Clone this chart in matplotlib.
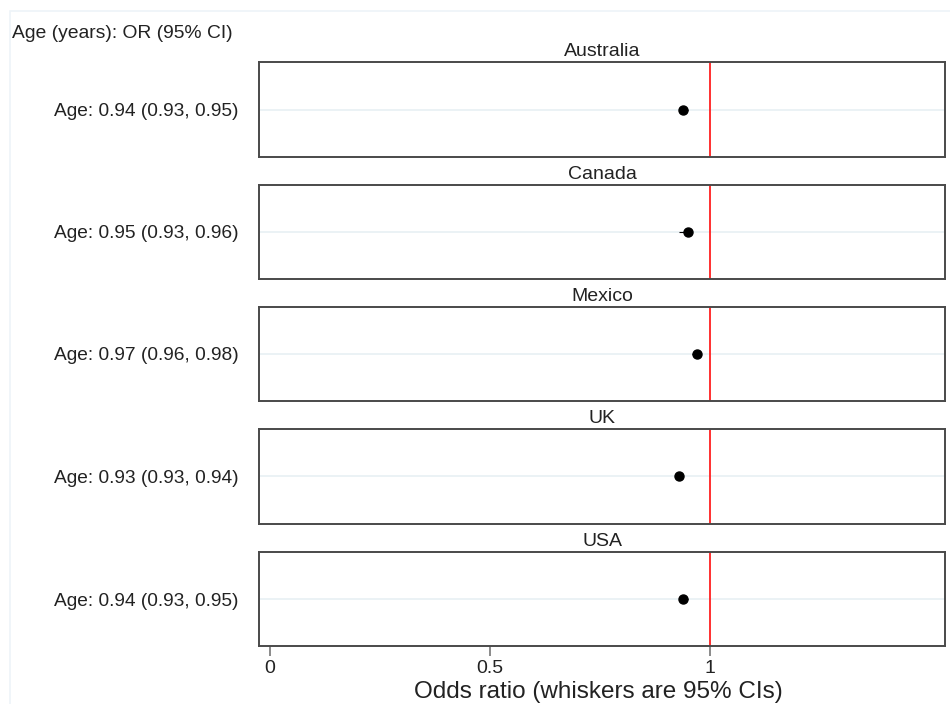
import matplotlib
matplotlib.use("Agg")
import matplotlib.pyplot as plt
from matplotlib.patches import Rectangle

countries = ["Australia", "Canada", "Mexico", "UK", "USA"]
odds_ratio = [0.94, 0.95, 0.97, 0.93, 0.94]
ci_low = [0.93, 0.93, 0.96, 0.93, 0.93]
ci_high = [0.95, 0.96, 0.98, 0.94, 0.95]
x_ticks = [0, 0.5, 1]
x_tick_labels = ["0", "0.5", "1"]

plt.rcParams["font.family"] = ["Liberation Sans", "DejaVu Sans"]

W, H = 950, 704
fig = plt.figure(figsize=(W / 100, H / 100), dpi=100)
fig.patch.set_facecolor("white")

# faint outer frame like the source export
fig.add_artist(Rectangle((10 / W, -0.01), 1.0, 1 - 11 / H + 0.01,
                         transform=fig.transFigure, fill=False,
                         edgecolor="#eef4f8", linewidth=1.2))

left, right = 259, 945
panel_px = [(62, 157), (185, 279), (307, 401), (429, 524), (552, 646)]

for i, (top, bot) in enumerate(panel_px):
    ax = fig.add_axes([left / W, 1 - bot / H, (right - left) / W, (bot - top) / H])
    ax.set_xlim(-0.025, 1.535)
    ax.set_ylim(-1, 1)
    ax.axhline(0, color="#e8f0f3", linewidth=1.2, zorder=1)
    ax.axvline(1, color="#ff2020", linewidth=1.3, zorder=2)
    ax.errorbar([odds_ratio[i]], [0],
                xerr=[[odds_ratio[i] - ci_low[i]], [ci_high[i] - odds_ratio[i]]],
                fmt="o", color="black", markersize=6.5, capsize=0,
                elinewidth=0.8, zorder=3)
    ax.set_yticks([0])
    ax.set_yticklabels([f"Age: {odds_ratio[i]:.2f} ({ci_low[i]:.2f}, {ci_high[i]:.2f})"],
                       fontsize=13.8, color="#222222")
    ax.tick_params(axis="y", length=0, pad=14.5)
    ax.set_title(countries[i], fontsize=14, color="#222222", pad=4)
    for spine in ax.spines.values():
        spine.set_edgecolor("#4a4a4a")
        spine.set_linewidth(1.4)
    if i == len(panel_px) - 1:
        ax.set_xticks(x_ticks)
        ax.set_xticklabels(x_tick_labels, fontsize=14, color="#222222")
        ax.tick_params(axis="x", length=7, width=1.2, color="#777777", pad=3)
    else:
        ax.set_xticks([])

fig.text(12 / W, 1 - 33 / H, "Age (years): OR (95% CI)", fontsize=13.9,
         color="#222222", ha="left", va="center")
fig.text(598 / W, 1 / H, "Odds ratio (whiskers are 95% CIs)", fontsize=17.5,
         color="#222222", ha="center", va="bottom")

fig.savefig("out.png", dpi=100, facecolor="white")
